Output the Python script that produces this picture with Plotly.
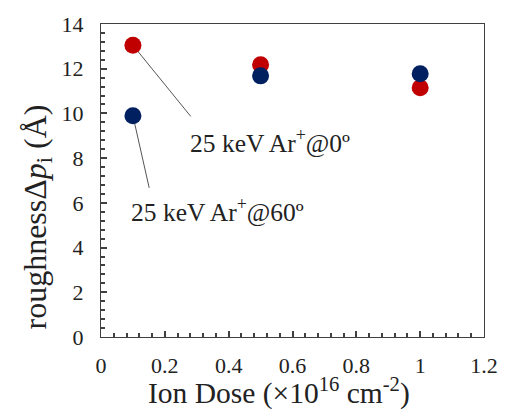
import plotly.graph_objects as go

dose = [0.1, 0.5, 1.0]
rough_0deg = [13.05, 12.18, 11.15]
rough_60deg = [9.9, 11.68, 11.77]
x_ticks = [0, 0.2, 0.4, 0.6, 0.8, 1.0, 1.2]
x_tick_labels = ["0", "0.2", "0.4", "0.6", "0.8", "1", "1.2"]
y_ticks = [0, 2, 4, 6, 8, 10, 12, 14]
y_tick_labels = ["0", "2", "4", "6", "8", "10", "12", "14"]

FONT = "Liberation Serif"
RED = "#C00000"
BLUE = "#002060"
AX = "#404040"

fig = go.Figure()
fig.add_trace(go.Scatter(x=dose, y=rough_0deg, mode="markers",
                         marker=dict(size=17, color=RED), name="0"))
fig.add_trace(go.Scatter(x=dose, y=rough_60deg, mode="markers",
                         marker=dict(size=17, color=BLUE), name="60"))

fig.update_layout(
    width=510, height=409, showlegend=False,
    margin=dict(l=101, r=20, t=17.5, b=72),
    plot_bgcolor="white", paper_bgcolor="white",
    font=dict(family=FONT, size=22, color="#222"),
    xaxis=dict(range=[0, 1.2], tickmode="array", tickvals=x_ticks, ticktext=x_tick_labels,
               showgrid=False, zeroline=False, showline=True, linecolor=AX, linewidth=1.3,
               mirror=True, ticks="inside", ticklen=6, tickwidth=1.5, tickcolor=AX,
               tickfont=dict(family=FONT, size=22, color="#222"),
               minor=dict(dtick=0.04, tick0=0, ticks="inside", ticklen=4, tickcolor=AX, tickwidth=1.5),
               ticklabelstandoff=8),
    yaxis=dict(range=[0, 14], tickmode="array", tickvals=y_ticks, ticktext=y_tick_labels,
               showgrid=False, zeroline=False, showline=True, linecolor=AX, linewidth=1.3,
               mirror=True, ticks="inside", ticklen=6, tickwidth=1.5, tickcolor=AX,
               tickfont=dict(family=FONT, size=22, color="#222"),
               minor=dict(dtick=0.4, tick0=0, ticks="inside", ticklen=4, tickcolor=AX, tickwidth=1.5),
               ticklabelstandoff=12),
)

# leader lines
fig.add_shape(type="line", x0=dose[0], y0=rough_0deg[0], x1=0.281, y1=9.87,
              line=dict(color="#555", width=1), layer="below")
fig.add_shape(type="line", x0=dose[0], y0=rough_60deg[0], x1=0.151, y1=6.67,
              line=dict(color="#555", width=1), layer="below")

fig.add_annotation(x=0.272, y=8.73, xanchor="left", yanchor="middle", showarrow=False,
                   text="25 keV Ar<sup>+</sup>@0º", font=dict(family=FONT, size=25.5, color="#222"))
fig.add_annotation(x=0.087, y=5.66, xanchor="left", yanchor="middle", showarrow=False,
                   text="25 keV Ar<sup>+</sup>@60º", font=dict(family=FONT, size=25.5, color="#222"))

# axis titles
fig.add_annotation(xref="paper", yref="paper", x=(282 - 101) / 389, y=(337 - 393) / 319.5,
                   xanchor="center", yanchor="middle", showarrow=False,
                   text="Ion Dose (×10<sup>16</sup> cm<sup>-2</sup>)",
                   font=dict(family=FONT, size=29.5, color="#222"))
fig.add_annotation(xref="paper", yref="paper", x=(36 - 101) / 389, y=(337 - 215) / 319.5,
                   xanchor="center", yanchor="middle", showarrow=False, textangle=-90,
                   text="roughnessΔ<i>p</i><sub>i</sub> (Å)",
                   font=dict(family=FONT, size=32, color="#222"))

fig.write_html("out.html")
